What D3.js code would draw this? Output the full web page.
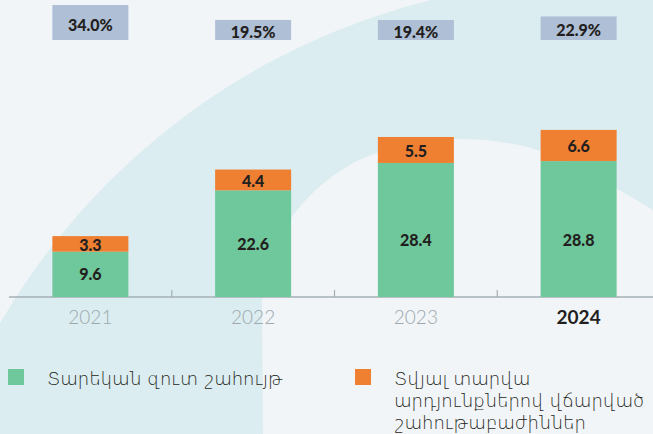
<!DOCTYPE html>
<html>
<head>
<meta charset="utf-8">
<script src="https://cdn.jsdelivr.net/npm/d3@7"></script>
<style>
  body { margin: 0; background: #f1f5f8; }
  svg { display: block; }
</style>
</head>
<body>
<svg id="chart" width="653" height="434"></svg>
<script>
const years = ["2021", "2022", "2023", "2024"];
const netProfit = [9.6, 22.6, 28.4, 28.8];
const dividends = [3.3, 4.4, 5.5, 6.6];
const payoutPct = [34.0, 19.5, 19.4, 22.9];
const seriesNames = ["Տարեկան զուտ շահույթ", "Տվյալ տարվա արդյունքներով վճարված շահութաբաժիններ"];
const seriesColors = ["#6fc79c", "#ef7f31"];

const svg = d3.select("#chart");
const width = 653, height = 434;
const baseY = 297;

// decorative background shapes
svg.append("rect").attr("width", width).attr("height", height).attr("fill", "#f1f5f8");
svg.append("circle").attr("cx", 596).attr("cy", 669).attr("r", 689).attr("fill", "#dbedf0");
svg.append("path")
  .attr("d", "M263,434 L262,310 C262,250 295,195 355,162 C420,130 520,128 600,178 C622,192 640,202 653,210 L653,434 Z")
  .attr("fill", "#f1f5f8");

const table = years.map((y, i) => ({ year: y, net: netProfit[i], div: dividends[i], pct: payoutPct[i] }));
const stacked = d3.stack().keys(["net", "div"])(table);

const x = d3.scaleBand().domain(years).range([9, 660]).paddingInner(0.533).paddingOuter(0.2665);
const y = d3.scaleLinear().domain([0, 40]).range([baseY, baseY - 40 * 4.72]);
const boxH = d3.scaleLinear().domain([0, 34]).range([0, 35]);
const color = d3.scaleOrdinal().domain(["net", "div"]).range(seriesColors);

// axis
const step = x.step();
svg.append("line")
  .attr("x1", 9).attr("x2", width).attr("y1", baseY).attr("y2", baseY)
  .attr("stroke", "#a5afb5").attr("stroke-width", 1.5);
svg.selectAll(".tick")
  .data(years.slice(1))
  .join("line")
  .attr("x1", d => x(d) - (step - x.bandwidth()) / 2)
  .attr("x2", d => x(d) - (step - x.bandwidth()) / 2)
  .attr("y1", baseY - 7).attr("y2", baseY)
  .attr("stroke", "#a5afb5").attr("stroke-width", 1.2);

// bars
const layer = svg.selectAll(".layer")
  .data(stacked)
  .join("g")
  .attr("fill", d => color(d.key));

layer.selectAll("rect")
  .data(d => d)
  .join("rect")
  .attr("x", d => x(d.data.year))
  .attr("y", d => y(d[1]))
  .attr("width", x.bandwidth())
  .attr("height", d => y(d[0]) - y(d[1]));

// value labels
const labelFont = "Lato, 'Open Sans', sans-serif";
svg.selectAll(".net-label")
  .data(stacked[0])
  .join("text")
  .attr("x", d => x(d.data.year) + x.bandwidth() / 2)
  .attr("y", d => Math.max((y(d[0]) + y(d[1])) / 2, y(12)) + 6)
  .attr("text-anchor", "middle")
  .attr("font-family", labelFont).attr("font-weight", 900).attr("font-size", 16)
  .attr("fill", "#231f20")
  .text(d => d.data.net.toFixed(1));

svg.selectAll(".div-label")
  .data(stacked[1])
  .join("text")
  .attr("x", d => x(d.data.year) + x.bandwidth() / 2)
  .attr("y", d => (y(d[0]) + y(d[1])) / 2 + 7)
  .attr("text-anchor", "middle")
  .attr("font-family", labelFont).attr("font-weight", 900).attr("font-size", 16)
  .attr("fill", "#231f20")
  .text(d => d.data.div.toFixed(1));

// payout ratio boxes
const boxBottom = 40;
svg.selectAll(".pct-box")
  .data(table)
  .join("rect")
  .attr("x", d => x(d.year))
  .attr("y", d => boxBottom - boxH(d.pct))
  .attr("width", x.bandwidth())
  .attr("height", d => boxH(d.pct))
  .attr("fill", "#afc0d6");

svg.selectAll(".pct-label")
  .data(table)
  .join("text")
  .attr("x", d => x(d.year) + x.bandwidth() / 2)
  .attr("y", d => boxBottom - boxH(d.pct) / 2 + 8)
  .attr("text-anchor", "middle")
  .attr("font-family", labelFont).attr("font-weight", 900).attr("font-size", 16)
  .attr("fill", "#231f20")
  .text(d => d.pct.toFixed(1) + "%");

// year labels
svg.selectAll(".year")
  .data(years)
  .join("text")
  .attr("x", d => x(d) + x.bandwidth() / 2)
  .attr("y", 324)
  .attr("text-anchor", "middle")
  .attr("font-family", "Lato, 'Open Sans', sans-serif")
  .attr("font-size", 19)
  .attr("font-weight", (d, i) => i === years.length - 1 ? 700 : 300)
  .attr("fill", (d, i) => i === years.length - 1 ? "#231f20" : "#9ea9af")
  .text(d => d);

// legend
const legendFont = "'DejaVu Sans', 'Noto Sans', sans-serif";
const legendX = [8, 355];
const legendLines = [
  ["Տարեկան զուտ շահույթ"],
  ["Տվյալ տարվա", "արդյունքներով վճարված", "շահութաբաժիններ"]
];
const legend = svg.selectAll(".legend")
  .data(seriesNames)
  .join("g")
  .attr("transform", (d, i) => `translate(${legendX[i]},369)`);

legend.append("rect")
  .attr("width", 16).attr("height", 16)
  .attr("fill", (d, i) => seriesColors[i]);

legend.append("text")
  .attr("font-family", legendFont)
  .attr("font-size", 18)
  .attr("font-weight", 300)
  .attr("fill", "#231f20")
  .selectAll("tspan")
  .data((d, i) => legendLines[i])
  .join("tspan")
  .attr("x", 39)
  .attr("y", (d, i) => 16 + i * 22)
  .text(d => d);
</script>
</body>
</html>
